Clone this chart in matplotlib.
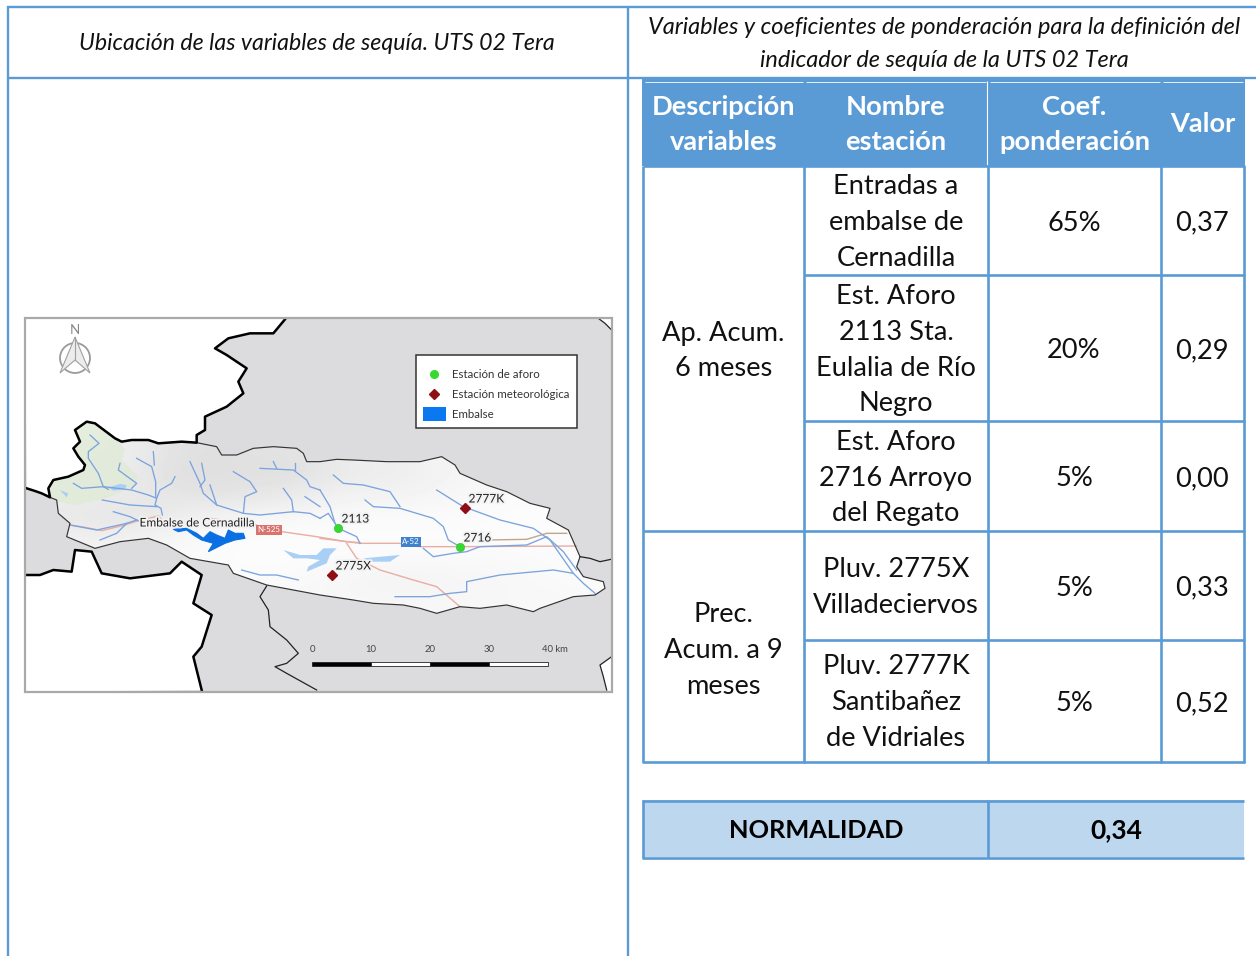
import matplotlib
matplotlib.use("Agg")
import matplotlib.pyplot as plt
import matplotlib.patheffects as pe
import numpy as np
from matplotlib.patches import Rectangle, Polygon, Circle

# ---------- table content ----------
titles = ["Ubicación de las variables de sequía. UTS 02 Tera",
          "Variables y coeficientes de ponderación para la definición del\nindicador de sequía de la UTS 02 Tera"]
headers = ["Descripción\nvariables", "Nombre\nestación", "Coef.\nponderación", "Valor"]
groups = ["Ap. Acum.\n6 meses", "Prec.\nAcum. a 9\nmeses"]
stations = ["Entradas a\nembalse de\nCernadilla", "Est. Aforo\n2113 Sta.\nEulalia de Río\nNegro",
            "Est. Aforo\n2716 Arroyo\ndel Regato", "Pluv. 2775X\nVilladeciervos",
            "Pluv. 2777K\nSantibañez\nde Vidriales"]
coefs = ["65%", "20%", "5%", "5%", "5%"]
values = ["0,37", "0,29", "0,00", "0,33", "0,52"]
result_label = "NORMALIDAD"
result_value = "0,34"

# ---------- map content ----------
station_labels = ["2113", "2716", "2775X", "2777K"]
station_x = [338, 460, 332, 465]
station_y = [528, 547, 575, 508]
station_kind = ["aforo", "aforo", "meteo", "meteo"]
legend_labels = ["Estación de aforo", "Estación meteorológica", "Embalse"]
scale_labels = ["0", "10", "20", "30", "40 km"]
scale_x = [312, 371, 430, 489, 548]

def A(pts): return [(20 + x / 3, 310 + y / 3) for x, y in pts]
def B(pts): return [(320 + x / 3, 310 + y / 3) for x, y in pts]
def C(pts): return [(25 + x / 3, 410 + y / 3) for x, y in pts]
def D(pts): return [(160 + x / 3, 500 + y / 3) for x, y in pts]

nw_shared = C([(75,262),(70,235),(85,210),(130,200),(175,180),(180,165),(160,140),(145,115),(165,95),(150,60),
               (185,35),(210,40),(250,70),(270,85),(290,95),(320,90),(370,90),(400,100),(470,95),(515,98)])
nw_border = (C([(5,235),(30,243),(50,250),(75,262)]) + nw_shared[1:]
             + A([(530,375),(555,360),(555,320),(620,290),(670,250),(655,215),(680,175),
                  (620,135),(585,115),(625,85),(690,70),(760,70),(795,28)]))
sw_border = A([(18,795),(60,795),(100,780),(155,785),(165,720),(215,725),(245,790),(330,805),(450,790),(485,755),
               (545,795),(520,880),(575,915),(545,1010),(520,1040),(545,1140)])
basin = (nw_shared
         + A([(590,410),(605,435),(650,435),(700,415),(760,410),(830,415),(850,430),(860,455)])
         + B([(0,455),(50,448),(100,450),(200,455),(300,455),(365,440),(405,465),(420,490),(500,525),(560,545),(630,580),
              (690,595),(680,625),(745,660),(780,740),(770,770),(790,800),(850,815),(855,835),(825,855),(760,860),
              (660,895),(640,905),(560,885),(480,895),(420,890),(350,910),(300,895),(250,885),(160,880),(100,870),(0,855)])
         + A([(820,840),(740,825),(640,790),(625,765),(510,745),(440,705),(385,685),(300,695),(225,715),(140,680),
              (150,640),(115,610),(110,570)]))
thin_south = A([(740,828),(720,860),(745,900),(750,950),(800,990),(835,1030),(800,1060),(765,1070),(800,1090),(890,1140)])
thin_east = B([(780,740),(810,745),(840,755),(873,748)])
corner_ne = B([(835,25),(855,40),(875,60)])
corner_se = B([(875,1040),(840,1065),(850,1100),(860,1140)])
green_zone = C([(80,262),(70,235),(85,210),(130,200),(175,180),(180,165),(145,115),(165,95),(150,60),(185,35),(210,40),
                (250,70),(285,95),(300,120),(290,150),(340,200),(320,235),(240,265),(150,285),(100,275)])
rivers = [
    C([(195,75),(222,100),(190,125),(190,145),(220,190),(235,230),(250,238)]),
    C([(285,160),(280,180),(335,220),(320,235)]),
    C([(145,220),(170,235),(235,230),(320,240),(370,255),(395,265),(390,285),(408,295),(412,315)]),
    C([(335,145),(380,170),(392,215),(392,262)]),
    C([(385,125),(388,165)]),
    C([(450,200),(440,220),(405,240),(395,265)]),
    C([(232,270),(315,285),(395,290)]),
    C([(265,305),(315,320),(340,332)]),
    A([(150,645),(230,660),(320,640),(350,630)]),
    A([(240,690),(290,670),(320,640)]),
    A([(510,455),(540,520),(550,550),(590,585),(670,610),(720,615),(820,605),(870,610),(900,625)]),
    A([(545,460),(555,510),(540,530)]),
    A([(570,525),(590,585)]),
    A([(640,485),(690,515),(710,545),(675,560),(670,610)]),
    A([(720,475),(820,480),(860,510),(870,530),(900,540)]),
    A([(760,455),(770,475)]),
    A([(825,458),(825,480)]),
    A([(790,535),(815,570),(820,605)]),
    A([(855,560),(900,590)]),
    D([(245,210),(300,225),(350,225),(415,240)]),
    B([(0,540),(30,590),(45,640),(55,655),(110,680),(120,700)]),
    B([(0,625),(25,610),(45,640)]),
    B([(40,495),(70,520),(130,525),(210,545),(240,590)]),
    B([(135,570),(160,590),(240,595),(340,625),(370,650),(385,690),(420,710)]),
    B([(350,540),(430,590),(540,630),(640,655),(690,690),(760,790)]),
    B([(310,715),(340,740),(400,730),(440,725),(480,710),(620,705),(680,680),(730,725),(770,780)]),
    B([(225,860),(330,860),(390,850),(440,845),(440,815),(540,795),(700,780),(760,790),(790,820),(825,850)]),
]
roads = [
    C([(135,345),(180,352),(230,362),(300,345),(330,335),(400,318),(415,335)]),
    D([(150,55),(290,75)]),
    D([(365,95),(470,110),(560,125),(600,128)]),
    B([(0,685),(120,700),(240,700),(300,710),(420,710),(770,708)]),
    B([(80,700),(110,745),(180,780),(280,810),(350,830),(420,890)]),
]
road_brown = B([(500,690),(620,688),(680,670),(740,670)])
light_lakes = [
    C([(250,232),(285,222),(305,225),(300,238),(265,242)]),
    C([(105,240),(130,250),(125,262)]),
    D([(370,150),(420,165),(470,165),(490,145),(530,145),(510,165),(500,190),(440,215),(445,200),(480,180),(440,175),(400,175)]),
    B([(130,745),(240,735),(210,755),(160,755)]),
]
embalse = D([(40,88),(80,85),(110,100),(130,115),(150,95),(170,105),(195,115),(205,90),(225,100),(250,100),(255,115),
             (225,120),(195,130),(175,140),(145,155),(160,130),(125,120),(100,105),(80,90),(55,95)])
# grey level of the relief shading, read on a coarse grid over the basin
shade_x = [45, 605]
shade_y = [440, 615]
shade_levels = [
    [.90,.90,.88,.82,.80,.82,.82,.86,.90,.90,.93,.95,.97,.97,.97],
    [.90,.88,.86,.80,.80,.80,.80,.84,.88,.88,.92,.94,.96,.97,.97],
    [.88,.88,.86,.84,.82,.84,.86,.90,.92,.92,.94,.95,.97,.97,.97],
    [.86,.84,.84,.88,.92,.94,.95,.96,.97,.97,.97,.97,.98,.98,.98],
    [.90,.90,.92,.95,.97,.98,.98,.98,.98,.98,.98,.98,.98,.98,.98],
    [.95,.95,.95,.96,.97,.98,.98,.97,.96,.96,.96,.96,.96,.97,.98],
    [.95,.95,.95,.96,.97,.97,.96,.95,.93,.92,.93,.94,.95,.96,.97],
    [.95,.95,.95,.95,.95,.95,.95,.95,.95,.95,.95,.95,.95,.95,.95],
]

# ---------- figure ----------
BLUE = "#5b9bd5"
plt.rcParams["font.family"] = ["Lato", "DejaVu Sans"]
fig = plt.figure(figsize=(12.56, 9.56), dpi=100, facecolor="white")
ax = fig.add_axes([0, 0, 1, 1])
ax.axis("off")

def hline(x0, x1, y, lw=1.7, c=BLUE, z=6): ax.plot([x0, x1], [y, y], color=c, lw=lw, zorder=z, solid_capstyle="butt")
def vline(x, y0, y1, lw=1.7, c=BLUE, z=6): ax.plot([x, x], [y0, y1], color=c, lw=lw, zorder=z, solid_capstyle="butt")
def cell(x, y, s, size=19.6, **kw):
    ax.text(x, y, s, ha="center", va="center", fontsize=size, linespacing=1.55, color=kw.pop("color", "#111111"), zorder=8, **kw)

# outer frame
hline(7, 1256, 7); hline(7, 1256, 78)
vline(8, 6, 956); vline(628, 6, 956)
ax.text(317, 43, titles[0], ha="center", va="center", fontsize=16.7, style="italic", color="#111111")
ax.text(944.5, 44, titles[1], ha="center", va="center", fontsize=16.9, style="italic", color="#111111", linespacing=1.76)

# table
TL = 1.9
col_x = [643, 804, 988, 1161, 1244]
row_y = [166, 275, 421, 531, 640, 762]
ax.add_patch(Rectangle((col_x[0] - 1, 79), col_x[-1] - col_x[0] + 2, 87, fc=BLUE, ec="none", zorder=3))
vline(987, 81, 165, lw=0.8, c="white")
for x0, x1 in [(645, 803), (806, 986), (990, 1160), (1163, 1243)]:
    hline(x0, x1, 81.5, lw=0.6, c="white")
for i, h in enumerate(headers):
    cell((col_x[i] + col_x[i + 1]) / 2, 124.5 if i < 3 else 124, h, color="white", weight="bold")
for x in col_x:
    vline(x, 166, 763, lw=TL)
for j, y in enumerate(row_y):
    hline(col_x[0] if j in (0, 3, 5) else col_x[1], col_x[-1] + 1, y, lw=TL)
cell((col_x[0] + col_x[1]) / 2, 351, groups[0])
cell((col_x[0] + col_x[1]) / 2, 650, groups[1])
for i in range(5):
    ym = (row_y[i] + row_y[i + 1]) / 2
    cell((col_x[1] + col_x[2]) / 2, ym + (2 if i != 4 else 1), stations[i])
    cell((col_x[2] + col_x[3]) / 2 - 0.5, ym + 2.5, coefs[i])
    cell((col_x[3] + col_x[4]) / 2 - 1, ym + 2.5, values[i])

# result box
ax.add_patch(Rectangle((643, 800), 601, 57, fc="#bdd7ee", ec="none", zorder=3))
hline(642, 1244, 800.5, lw=TL); hline(642, 1244, 857.5, lw=TL)
vline(643, 800, 858, lw=TL); vline(988, 800, 858, lw=TL)
cell(816, 831, result_label, size=18.3, weight="bold", color="black")
cell(1116, 830.5, result_value, size=19, weight="bold", color="black")

# map
mx0, mx1, my0, my1 = 25, 612, 318, 692
ax.add_patch(Rectangle((mx0, my0), mx1 - mx0, my1 - my0, fc="#dcdcdf", ec="none", zorder=1))
nw_fill = [(mx0, my0), (nw_border[-1][0], my0)] + nw_border[::-1]
ax.add_patch(Polygon(nw_fill, fc="white", ec="none", zorder=1.1))
ax.add_patch(Polygon(sw_border + [(mx0, my1)], fc="white", ec="none", zorder=1.1))
ax.add_patch(Polygon(corner_ne + [(mx1, my0)], fc="white", ec="none", zorder=1.1))
ax.add_patch(Polygon(corner_se + [(mx1, my1)], fc="white", ec="none", zorder=1.1))
basin_patch = Polygon(basin, fc="#f7f7f7", ec="none", zorder=1.2)
ax.add_patch(basin_patch)
im = ax.imshow(np.array(shade_levels), cmap="gray", vmin=-0.6, vmax=1, aspect="auto", interpolation="bicubic",
               extent=(shade_x[0], shade_x[1], shade_y[1], shade_y[0]), zorder=1.3)
im.set_clip_path(basin_patch)
p = Polygon(green_zone, fc="#dfeAd5", ec="none", alpha=0.75, zorder=1.4); ax.add_patch(p); p.set_clip_path(basin_patch)
for l in light_lakes:
    ax.add_patch(Polygon(l, fc="#a9cff5", ec="none", zorder=1.6))
for r in roads:
    ax.plot(*zip(*r), color="#e8ada3", lw=1.0, zorder=1.7)
ax.plot(*zip(*road_brown), color="#c2a58d", lw=1.0, zorder=1.7)
for r in rivers:
    ax.plot(*zip(*r), color="#7ba3dd", lw=0.95, zorder=1.8)
ax.add_patch(Polygon(embalse, fc="#0a6fe3", ec="#0a6fe3", lw=0.8, zorder=1.9))
ax.add_patch(Polygon(basin, fc="none", ec="#333333", lw=0.85, zorder=2, joinstyle="round"))
for line in (nw_border, sw_border):
    ax.plot(*zip(*line), color="black", lw=1.8, zorder=2.1, solid_joinstyle="round")
for line in (thin_south, thin_east, corner_ne, corner_se):
    ax.plot(*zip(*line), color="#222222", lw=0.9, zorder=2.1)
ax.add_patch(Rectangle((mx0, my0), mx1 - mx0, my1 - my0, fc="none", ec="#a9a9a9", lw=1.6, zorder=2.2))

halo = [pe.withStroke(linewidth=2.6, foreground="#f2f2f2")]
for s, x, y, k in zip(station_labels, station_x, station_y, station_kind):
    if k == "aforo":
        ax.plot(x, y, "o", ms=6, mfc="#35d92f", mec="#2fbf2a", mew=0.4, zorder=3)
    else:
        ax.plot(x, y, "D", ms=5.5, mfc="#8f0d14", mec="#8f0d14", zorder=3)
    ax.text(x + 3.5, y - 9, s, fontsize=8.6, va="center", ha="left", color="#222222", zorder=3.2, path_effects=halo)
ax.text(197, 523, "Embalse de Cernadilla", fontsize=8.6, ha="center", va="center", color="#222222", zorder=3.2, path_effects=halo)
for s, x, y, fc in [("N-525", 269, 530, "#d9736d"), ("A-52", 411, 542, "#3f82cf")]:
    ax.text(x, y, s, fontsize=5.8, color="white", ha="center", va="center", zorder=3,
            bbox=dict(boxstyle="square,pad=0.15", fc=fc, ec="none"))

# legend
ax.add_patch(Rectangle((416, 354.5), 161, 73, fc="white", ec="#333333", lw=1.1, zorder=4))
ax.plot(434, 374, "o", ms=5.5, mfc="#35d92f", mec="#35d92f", zorder=5)
ax.plot(434, 394, "D", ms=5, mfc="#8f0d14", mec="#8f0d14", zorder=5)
ax.add_patch(Rectangle((423, 407), 23, 14, fc="#0a78f0", ec="none", zorder=5))
for s, y in zip(legend_labels, [375, 395, 415]):
    ax.text(452, y, s, fontsize=8.3, va="center", ha="left", color="#333333", zorder=5)

# scale bar
for i in range(4):
    ax.add_patch(Rectangle((scale_x[i], 662), scale_x[i + 1] - scale_x[i], 4, fc="black" if i % 2 == 0 else "white",
                           ec="#222222", lw=0.6, zorder=4))
for i, (s, x) in enumerate(zip(scale_labels, scale_x)):
    ax.text(x + (7 if i == 4 else 0), 649, s, fontsize=6.8, ha="center", va="center", color="#444444", zorder=4)

# north arrow
ax.add_patch(Circle((75, 358), 15, fc="none", ec="#9a9a9a", lw=1.3, zorder=4))
ax.add_patch(Polygon([(75, 337), (60, 373), (75, 360), (90, 373)], fc="#ececec", ec="#a0a0a0", lw=0.8, zorder=4.1))
ax.plot([75, 75], [337, 360], color="#a0a0a0", lw=0.8, zorder=4.2)
ax.text(75, 329.5, "N", fontsize=9.5, ha="center", va="center", color="#888888", zorder=4)

ax.set_xlim(0, 1256); ax.set_ylim(956, 0)
fig.savefig("out.png", dpi=100, facecolor="white")
